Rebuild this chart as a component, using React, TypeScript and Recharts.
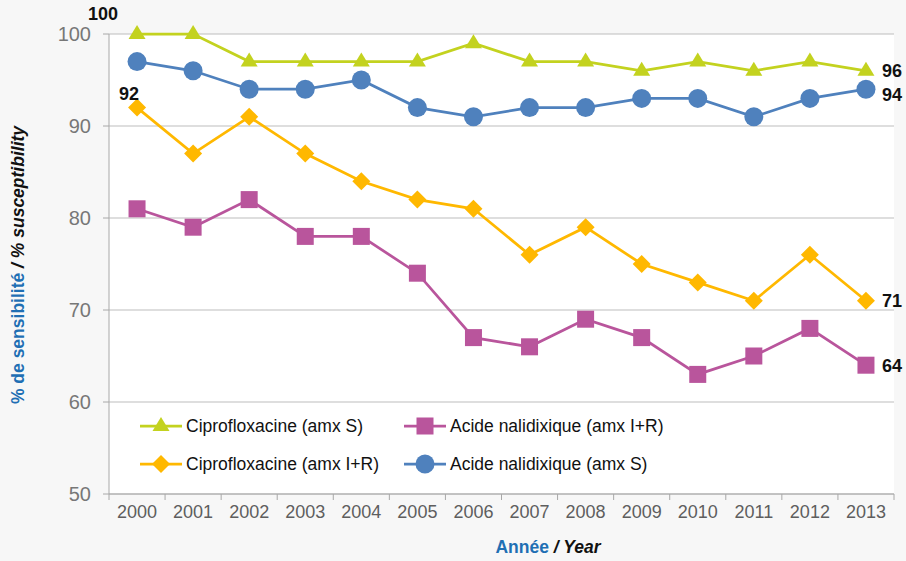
import { LineChart, Line, XAxis, YAxis, CartesianGrid, LabelList } from "recharts";

const YEARS = ["2000", "2001", "2002", "2003", "2004", "2005", "2006", "2007", "2008", "2009", "2010", "2011", "2012", "2013"];
const CIPRO_S = [100, 100, 97, 97, 97, 97, 99, 97, 97, 96, 97, 96, 97, 96];
const NALID_S = [97, 96, 94, 94, 95, 92, 91, 92, 92, 93, 93, 91, 93, 94];
const CIPRO_IR = [92, 87, 91, 87, 84, 82, 81, 76, 79, 75, 73, 71, 76, 71];
const NALID_IR = [81, 79, 82, 78, 78, 74, 67, 66, 69, 67, 63, 65, 68, 64];
const Y_TICKS = [50, 60, 70, 80, 90, 100];

const data = YEARS.map((year, i) => ({
  year,
  ciproS: CIPRO_S[i],
  nalidS: NALID_S[i],
  ciproIR: CIPRO_IR[i],
  nalidIR: NALID_IR[i],
}));

const W = 906;
const H = 561;
const LEFT = 109;
const RIGHT = 12;
const TOP = 34;
const BOTTOM = 67;
const BAND = (W - LEFT - RIGHT) / YEARS.length;

const FONT = '"Liberation Sans", Arial, sans-serif';
const GREEN = "#c3d21f";
const BLUE = "#4f81bd";
const ORANGE = "#ffb800";
const PURPLE = "#b9559c";
const TITLE_BLUE = "#1f6fb4";
const AXIS = "#a8a8a8";

type Shape = "triangle" | "circle" | "diamond" | "square";

function Marker({ shape, cx, cy, color }: { shape: Shape; cx: number; cy: number; color: string }) {
  if (shape === "triangle")
    return <polygon points={`${cx},${cy - 9} ${cx + 8.5},${cy + 5} ${cx - 8.5},${cy + 5}`} fill={color} />;
  if (shape === "circle") return <circle cx={cx} cy={cy} r={9.5} fill={color} />;
  if (shape === "diamond")
    return <polygon points={`${cx},${cy - 9} ${cx + 9},${cy} ${cx},${cy + 9} ${cx - 9},${cy}`} fill={color} />;
  return <rect x={cx - 8.5} y={cy - 8.5} width={17} height={17} fill={color} />;
}

const dotFor = (shape: Shape, color: string) => (p: any) => (
  <Marker key={p.index} shape={shape} cx={p.cx} cy={p.cy} color={color} />
);

// labels only on first / last points, as in the report
const labelFor = (first: null | { dx: number; dy: number }, lastDy: number) => (p: any) => {
  const { x, y, value, index } = p;
  if (index === 0 && first) {
    return (
      <text x={x + first.dx} y={y + first.dy} textAnchor="middle" dominantBaseline="central"
        fontFamily={FONT} fontWeight="bold" fontSize={18} fill="#111">{value}</text>
    );
  }
  if (index === YEARS.length - 1) {
    return (
      <text x={x + 16} y={y + lastDy} textAnchor="start" dominantBaseline="central"
        fontFamily={FONT} fontWeight="bold" fontSize={18} fill="#111">{value}</text>
    );
  }
  return null;
};

function YearTick({ x, y, payload, index }: any) {
  const half = BAND / 2;
  return (
    <g>
      <line x1={x - half} y1={y} x2={x - half} y2={y + 6} stroke={AXIS} />
      {index === YEARS.length - 1 && <line x1={x + half} y1={y} x2={x + half} y2={y + 6} stroke={AXIS} />}
      <text x={x} y={y + 24} textAnchor="middle" fontFamily={FONT} fontSize={18} fill="#5e5e5e">
        {payload.value}
      </text>
    </g>
  );
}

const LEGEND: { name: string; shape: Shape; color: string }[] = [
  { name: "Ciprofloxacine (amx S)", shape: "triangle", color: GREEN },
  { name: "Acide nalidixique (amx I+R)", shape: "square", color: PURPLE },
  { name: "Ciprofloxacine (amx I+R)", shape: "diamond", color: ORANGE },
  { name: "Acide nalidixique (amx S)", shape: "circle", color: BLUE },
];

function LegendBox() {
  return (
    <div style={{ position: "absolute", left: 140, top: 407, width: 560, display: "flex", flexWrap: "wrap" }}>
      {LEGEND.map((item) => (
        <div key={item.name} style={{ width: 264, height: 38, display: "flex", alignItems: "center" }}>
          <svg width={44} height={24}>
            <line x1={0} y1={12} x2={42} y2={12} stroke={item.color} strokeWidth={2.75} />
            <Marker shape={item.shape} cx={21} cy={12} color={item.color} />
          </svg>
          <span style={{ fontFamily: FONT, fontSize: 17.5, color: "#111", marginLeft: 2 }}>{item.name}</span>
        </div>
      ))}
    </div>
  );
}

export default function App() {
  return (
    <div style={{ position: "absolute", left: 0, top: 0, width: W, height: H, background: "#f7f7f7" }}>
      <LineChart width={W} height={H} data={data} margin={{ top: TOP, right: RIGHT, bottom: 0, left: 0 }}>
        <CartesianGrid vertical={false} stroke="#bdbdbd" fill="#ffffff" />
        <XAxis
          dataKey="year"
          height={BOTTOM}
          padding={{ left: BAND / 2, right: BAND / 2 }}
          stroke={AXIS}
          tickLine={false}
          tickSize={0}
          tickMargin={0}
          tick={<YearTick />}
          interval={0}
          label={{
            content: () => (
              <text x={548} y={553} textAnchor="middle" fontFamily={FONT} fontSize={17.5} fontWeight="bold">
                <tspan fill={TITLE_BLUE}>Année</tspan>
                <tspan fill="#111" fontStyle="italic"> / Year</tspan>
              </text>
            ),
          }}
        />
        <YAxis
          width={LEFT}
          domain={[50, 100]}
          ticks={Y_TICKS}
          stroke={AXIS}
          tickSize={6}
          tickMargin={12}
          tick={{ fill: "#777777", fontSize: 20, fontFamily: FONT }}
          label={{
            content: () => (
              <text x={24} y={265} transform="rotate(-90 24 265)" textAnchor="middle" fontFamily={FONT}
                fontSize={17.5} fontWeight="bold">
                <tspan fill={TITLE_BLUE}>% de sensibilité</tspan>
                <tspan fill="#111" fontStyle="italic"> / % susceptibility</tspan>
              </text>
            ),
          }}
        />
        <Line dataKey="nalidIR" stroke={PURPLE} strokeWidth={2.75} dot={dotFor("square", PURPLE)} isAnimationActive={false}>
          <LabelList dataKey="nalidIR" content={labelFor(null, 1)} />
        </Line>
        <Line dataKey="ciproIR" stroke={ORANGE} strokeWidth={2.75} dot={dotFor("diamond", ORANGE)} isAnimationActive={false}>
          <LabelList dataKey="ciproIR" content={labelFor({ dx: -8, dy: -14 }, 0)} />
        </Line>
        <Line dataKey="nalidS" stroke={BLUE} strokeWidth={2.75} dot={dotFor("circle", BLUE)} isAnimationActive={false}>
          <LabelList dataKey="nalidS" content={labelFor(null, 6)} />
        </Line>
        <Line dataKey="ciproS" stroke={GREEN} strokeWidth={2.75} dot={dotFor("triangle", GREEN)} isAnimationActive={false}>
          <LabelList dataKey="ciproS" content={labelFor({ dx: -34, dy: -20 }, 0)} />
        </Line>
      </LineChart>
      <LegendBox />
    </div>
  );
}
